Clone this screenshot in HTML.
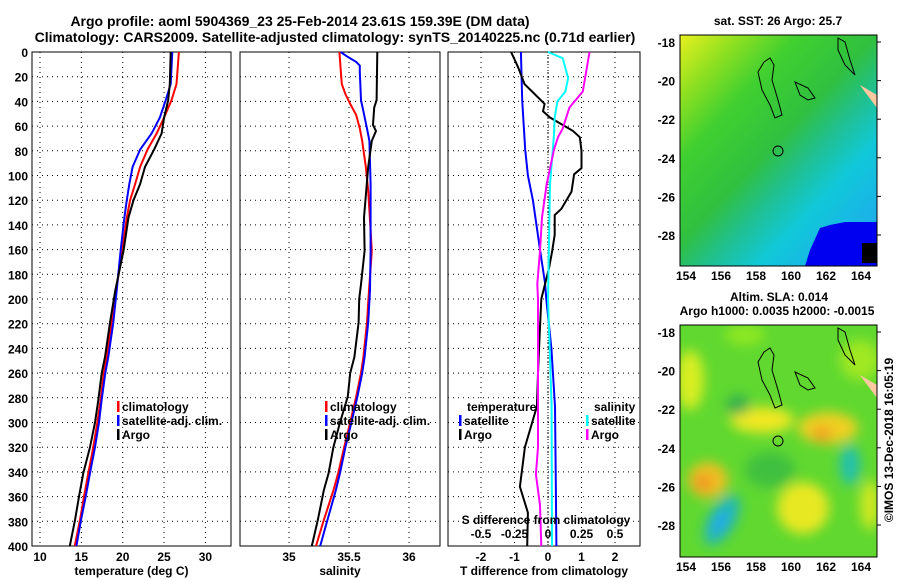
<!DOCTYPE html>
<html><head><meta charset="utf-8"><style>
body{margin:0;background:#fff;}
svg{display:block;font-family:"Liberation Sans",sans-serif;font-weight:bold;}
</style></head><body>
<svg id="c" width="900" height="580" viewBox="0 0 900 580">
<defs>
<linearGradient id="sst" x1="0" y1="0" x2="0.9" y2="1">
<stop offset="0" stop-color="#e8f020"/><stop offset="0.15" stop-color="#90e020"/><stop offset="0.3" stop-color="#40d030"/><stop offset="0.5" stop-color="#30c040"/><stop offset="0.62" stop-color="#20c090"/><stop offset="0.75" stop-color="#10c8d8"/><stop offset="1" stop-color="#20a8f0"/></linearGradient>
<filter id="bl"><feGaussianBlur stdDeviation="6"/></filter>
<clipPath id="m1"><rect x="680" y="35" width="197" height="231"/></clipPath>
<clipPath id="m2"><rect x="680" y="325" width="197" height="232"/></clipPath>
</defs>
<text x="300" y="26" font-size="14" text-anchor="middle">Argo profile: aoml 5904369_23 25-Feb-2014 23.61S 159.39E (DM data)</text>
<text x="335" y="42" font-size="14" text-anchor="middle">Climatology: CARS2009. Satellite-adjusted climatology: synTS_20140225.nc (0.71d earlier)</text>
<g id="g"></g>
<g>
<text x="778" y="25" font-size="12" text-anchor="middle">sat. SST: 26 Argo: 25.7</text>
<g clip-path="url(#m1)">
<rect x="680" y="35" width="197" height="231" fill="url(#sst)"/>
<path d="M805 266 L810 250 L820 228 L830 225 L845 222 L877 222 L877 266Z" fill="#0000f0"/>
<rect x="862" y="243" width="15" height="20" fill="#000"/>
<path d="M860 85 L877 95 L877 108 L865 92Z" fill="#ffc8a0"/>
</g>
<rect x="680" y="35" width="197" height="231" fill="none" stroke="#000"/>
<g fill="none" stroke="#000" stroke-width="1">
<path d="M764 62 L770 58 L774 65 L772 80 L778 100 L782 115 L775 118 L770 105 L762 90 L758 72Z"/>
<path d="M795 82 L808 88 L815 98 L808 100 L800 95Z"/>
<path d="M838 38 L845 42 L850 60 L855 75 L845 65 L838 50Z"/>
<circle cx="778" cy="151" r="5"/>
</g>
<text x="779" y="301" font-size="12" text-anchor="middle">Altim. SLA: 0.014</text>
<text x="777" y="315" font-size="12" text-anchor="middle">Argo h1000: 0.0035 h2000: -0.0015</text>
</g>
<g>
<g clip-path="url(#m2)">
<rect x="680" y="325" width="197" height="232" fill="#60d830"/>
<g filter="url(#bl)">
<ellipse cx="690" cy="380" rx="14" ry="30" fill="#d8ee20"/>
<ellipse cx="745" cy="335" rx="20" ry="10" fill="#90e820"/>
<ellipse cx="860" cy="360" rx="20" ry="20" fill="#a0e820"/>
<ellipse cx="762" cy="420" rx="32" ry="13" fill="#f0e820"/>
<ellipse cx="828" cy="428" rx="30" ry="16" fill="#f0d020"/>
<ellipse cx="822" cy="434" rx="10" ry="8" fill="#f0a020"/>
<ellipse cx="708" cy="480" rx="20" ry="18" fill="#f0c020"/>
<ellipse cx="703" cy="483" rx="9" ry="8" fill="#f09020"/>
<ellipse cx="803" cy="508" rx="26" ry="26" fill="#e8e820"/>
<ellipse cx="722" cy="520" rx="13" ry="28" fill="#20b8b8" transform="rotate(30 722 520)"/>
<ellipse cx="720" cy="522" rx="6" ry="12" fill="#20a8f0" transform="rotate(30 720 522)"/>
<ellipse cx="850" cy="465" rx="10" ry="20" fill="#20c0b0"/>
<ellipse cx="738" cy="405" rx="12" ry="10" fill="#30b050"/>
<ellipse cx="870" cy="505" rx="10" ry="25" fill="#d0e820"/>
<ellipse cx="770" cy="470" rx="25" ry="18" fill="#40c040"/>
</g>
<path d="M860 375 L877 385 L877 398 L865 382Z" fill="#ffc8a0"/>
</g>
<rect x="680" y="325" width="197" height="232" fill="none" stroke="#000"/>
<g fill="none" stroke="#000">
<path d="M764 352 L770 348 L774 355 L772 370 L778 390 L782 405 L775 408 L770 395 L762 380 L758 362Z"/>
<path d="M795 372 L808 378 L815 388 L808 390 L800 385Z"/>
<path d="M838 328 L845 332 L850 350 L855 365 L845 355 L838 340Z"/>
<circle cx="778" cy="441" r="5"/>
</g>
</g>
<text transform="translate(893,440) rotate(-90)" font-size="12" text-anchor="middle">©IMOS 13-Dec-2018 16:05:19</text>
</svg>
<script>
// ===== data =====
const depthTicks=[0,20,40,60,80,100,120,140,160,180,200,220,240,260,280,300,320,340,360,380,400];
const tempTicks=[10,15,20,25,30];
const salTicks=[35,35.5,36];
const tdiffTicks=[-2,-1,0,1,2];
const sdiffTicks=[-0.5,-0.25,0,0.25,0.5];
const sdiffLabels=["-0.5","-0.25","0","0.25","0.5"];
const tDepth=[0,26,39,53,66,79,93,107,120,134,161,193,219,247,260,282,300,320,341,360,379,400];
const tArgo=[25.8,25.7,25.5,25.0,24.7,23.8,22.7,22.1,21.3,20.7,20.1,19.1,18.46,17.86,17.46,17.05,16.65,16.05,15.24,14.72,14.23,13.6];
const tClim=[26.8,26.5,25.9,25.0,24.1,23.0,22.1,21.5,20.9,20.5,19.95,19.2,18.66,18.06,17.7,17.33,16.93,16.45,15.84,15.32,14.84,14.2];
const tSat=[26.0,25.8,25.2,24.5,23.5,22.1,21.2,20.8,20.5,20.2,19.75,19.27,18.86,18.26,17.9,17.45,17.13,16.65,16.05,15.52,14.96,14.4];
const sArgoD=[0,39,45,59,64,72,93,134,161,188,200,219,247,260,279,300,320,341,355,379,400];
const sArgo=[35.736,35.73,35.71,35.7,35.725,35.69,35.66,35.625,35.63,35.6,35.585,35.58,35.545,35.51,35.49,35.425,35.37,35.33,35.29,35.24,35.19];
const sClimD=[0,13,26,34,42,51,62,72,93,112,161,193,219,247,260,279,300,320,341,355,379,400];
const sClim=[35.42,35.43,35.44,35.47,35.51,35.56,35.59,35.61,35.64,35.66,35.69,35.667,35.65,35.62,35.6,35.56,35.51,35.46,35.41,35.37,35.29,35.225];
const sSatD=[0,4,8,11,16,39,48,62,72,107,161,193,219,247,260,279,300,320,341,355,379,400];
const sSat=[35.43,35.49,35.56,35.59,35.59,35.6,35.62,35.65,35.67,35.68,35.68,35.675,35.66,35.63,35.61,35.57,35.52,35.47,35.425,35.39,35.32,35.26];
const dtSatD=[0,39,79,100,120,160,187,200,240,287,340,400];
const dtSat=[-0.81,-0.77,-0.68,-0.6,-0.45,-0.24,-0.09,-0.05,0.1,0.21,0.23,0.25];
const dtArgoD=[0,12,26,34,42,48,53,64,69,80,94,99,113,127,132,148,162,175,200,230,260,287,320,352,373,400];
const dtArgo=[-1.1,-0.9,-0.7,-0.4,-0.1,-0.15,0.06,0.75,0.95,1.0,1.0,0.78,0.7,0.4,0.2,0.2,0.12,0.03,-0.2,-0.25,-0.3,-0.33,-0.69,-0.84,-0.6,-0.62];
const dsSatD=[0,5,21,32,40,53,67,107,200,287,400];
const dsSat=[0,0.11,0.15,0.13,0.07,0.05,0.045,0.015,0.0,0.027,0.03];
const dsArgoD=[0,32,45,62,69,79,107,134,161,188,200,287,320,342,367,400];
const dsArgo=[0.31,0.26,0.16,0.11,0.075,0.045,-0.01,-0.045,-0.06,-0.08,-0.075,-0.075,-0.075,-0.09,-0.06,-0.05];
// ===== drawing =====
const NS='http://www.w3.org/2000/svg';
const G=document.getElementById('g');
function el(t,a,p){const e=document.createElementNS(NS,t);for(const k in a)e.setAttribute(k,a[k]);(p||G).appendChild(e);return e;}
const Y0=52,Y1=546;
const yD=d=>Y0+(d/400)*(Y1-Y0);
const panels=[
 {x0:32,x1:231,scale:v=>40+(v-10)*8.27,ticks:tempTicks,labels:tempTicks.map(String),xlabel:'temperature (deg C)',name:'temperature'},
 {x0:240,x1:440,scale:v=>289+(v-35)*120,ticks:salTicks,labels:salTicks.map(String),xlabel:'salinity',name:'salinity'},
 {x0:448,x1:640,scale:v=>548+v*33.5,ticks:tdiffTicks,labels:tdiffTicks.map(String),xlabel:'T difference from climatology',name:'difference'}
];
const sdx=v=>548+v*134;
panels.forEach((p,i)=>{
 const g=el('g',{});
 
 
 depthTicks.forEach(d=>{
  const l=el('line',{x1:p.x0,x2:p.x1,y1:yD(d),y2:yD(d),stroke:'#000','stroke-dasharray':'1 4'},g);
  
  
 });
 p.ticks.forEach((t,j)=>{
  const x=p.scale(t);
  const l=el('line',{x1:x,x2:x,y1:Y0,y2:Y1,stroke:'#000','stroke-dasharray':'1 4'},g);
  
  
  const tx=el('text',{x:x,y:Y1+15,'font-size':12,'text-anchor':'middle'},g);
  tx.textContent=p.labels[j];
  
  
 });
 const r=el('rect',{x:p.x0,y:Y0,width:p.x1-p.x0,height:Y1-Y0,fill:'none',stroke:'#000'},g);
 
 
 const xl=el('text',{x:(p.x0+p.x1)/2,y:575,'font-size':12,'text-anchor':'middle'},g);
 xl.textContent=p.xlabel;
 
 
});
depthTicks.forEach(d=>{
 const t=el('text',{x:28,y:yD(d)+5,'font-size':12,'text-anchor':'end'});
 t.textContent=String(d);
 
 
});
function line(xs,ds,sc,col,name,w){
 const pts=xs.map((v,i)=>sc(v).toFixed(1)+','+yD(ds[i]).toFixed(1)).join(' ');
 const e=el('polyline',{points:pts,fill:'none',stroke:col,'stroke-width':w||2});
 
 
}
const P=panels;
line(tClim,tDepth,P[0].scale,'#f00','temp-climatology-line');
line(tSat,tDepth,P[0].scale,'#00f','temp-satellite-line');
line(tArgo,tDepth,P[0].scale,'#000','temp-argo-line');
line(sClim,sClimD,P[1].scale,'#f00','sal-climatology-line');
line(sSat,sSatD,P[1].scale,'#00f','sal-satellite-line');
line(sArgo,sArgoD,P[1].scale,'#000','sal-argo-line');
const zl=el('line',{x1:548,x2:548,y1:Y0,y2:Y1,stroke:'#000','stroke-dasharray':'1 2'});


line(dtSat,dtSatD,P[2].scale,'#00f','tdiff-satellite-line');
line(dtArgo,dtArgoD,P[2].scale,'#000','tdiff-argo-line');
line(dsSat,dsSatD,sdx,'#0ff','sdiff-satellite-line');
line(dsArgo,dsArgoD,sdx,'#f0f','sdiff-argo-line');
sdiffTicks.forEach((t,j)=>{
 const tx=el('text',{x:sdx(t),y:538,'font-size':12,'text-anchor':'middle'});
 tx.textContent=sdiffLabels[j];
 
 
});
const st=el('text',{x:546,y:524,'font-size':12,'text-anchor':'middle'});
st.textContent='S difference from climatology';


function legend(x,y,col,txt){
 const g=el('g',{});
 
 
 if(col) el('rect',{x:x,y:y-10,width:2.5,height:11,fill:col},g);
 const t=el('text',{x:col?x+5:x,y:y,'font-size':12},g);
 t.textContent=txt;
}
legend(117,411,'#f00','climatology');legend(117,425,'#00f','satellite-adj. clim.');legend(117,439,'#000','Argo');
legend(325,411,'#f00','climatology');legend(325,425,'#00f','satellite-adj. clim.');legend(325,439,'#000','Argo');
legend(467,411,null,'temperature');legend(459,425,'#00f','satellite');legend(459,439,'#000','Argo');
legend(594,411,null,'salinity');legend(586,425,'#0ff','satellite');legend(586,439,'#f0f','Argo');
function mapAxes(top,bot,y18,name){
 const lx=v=>686+(v-154)*17.5;
 [154,156,158,160,162,164].forEach(v=>{
  const t=el('text',{x:lx(v),y:bot+14,'font-size':12,'text-anchor':'middle'});
  t.textContent=String(v);
  
  
  el('line',{x1:lx(v),x2:lx(v),y1:bot,y2:bot-4,stroke:'#000'});
  el('line',{x1:lx(v),x2:lx(v),y1:top,y2:top+4,stroke:'#000'});
 });
 [-18,-20,-22,-24,-26,-28].forEach(v=>{
  const y=y18+(-18-v)*19.3;
  const t=el('text',{x:675,y:y+5,'font-size':12,'text-anchor':'end'});
  t.textContent=String(v);
  
  
  el('line',{x1:877,x2:881,y1:y,y2:y,stroke:'#000'});
 });
}
mapAxes(35,266,42,'sst-map');
mapAxes(325,557,332,'sla-map');
</script>
</body></html>
